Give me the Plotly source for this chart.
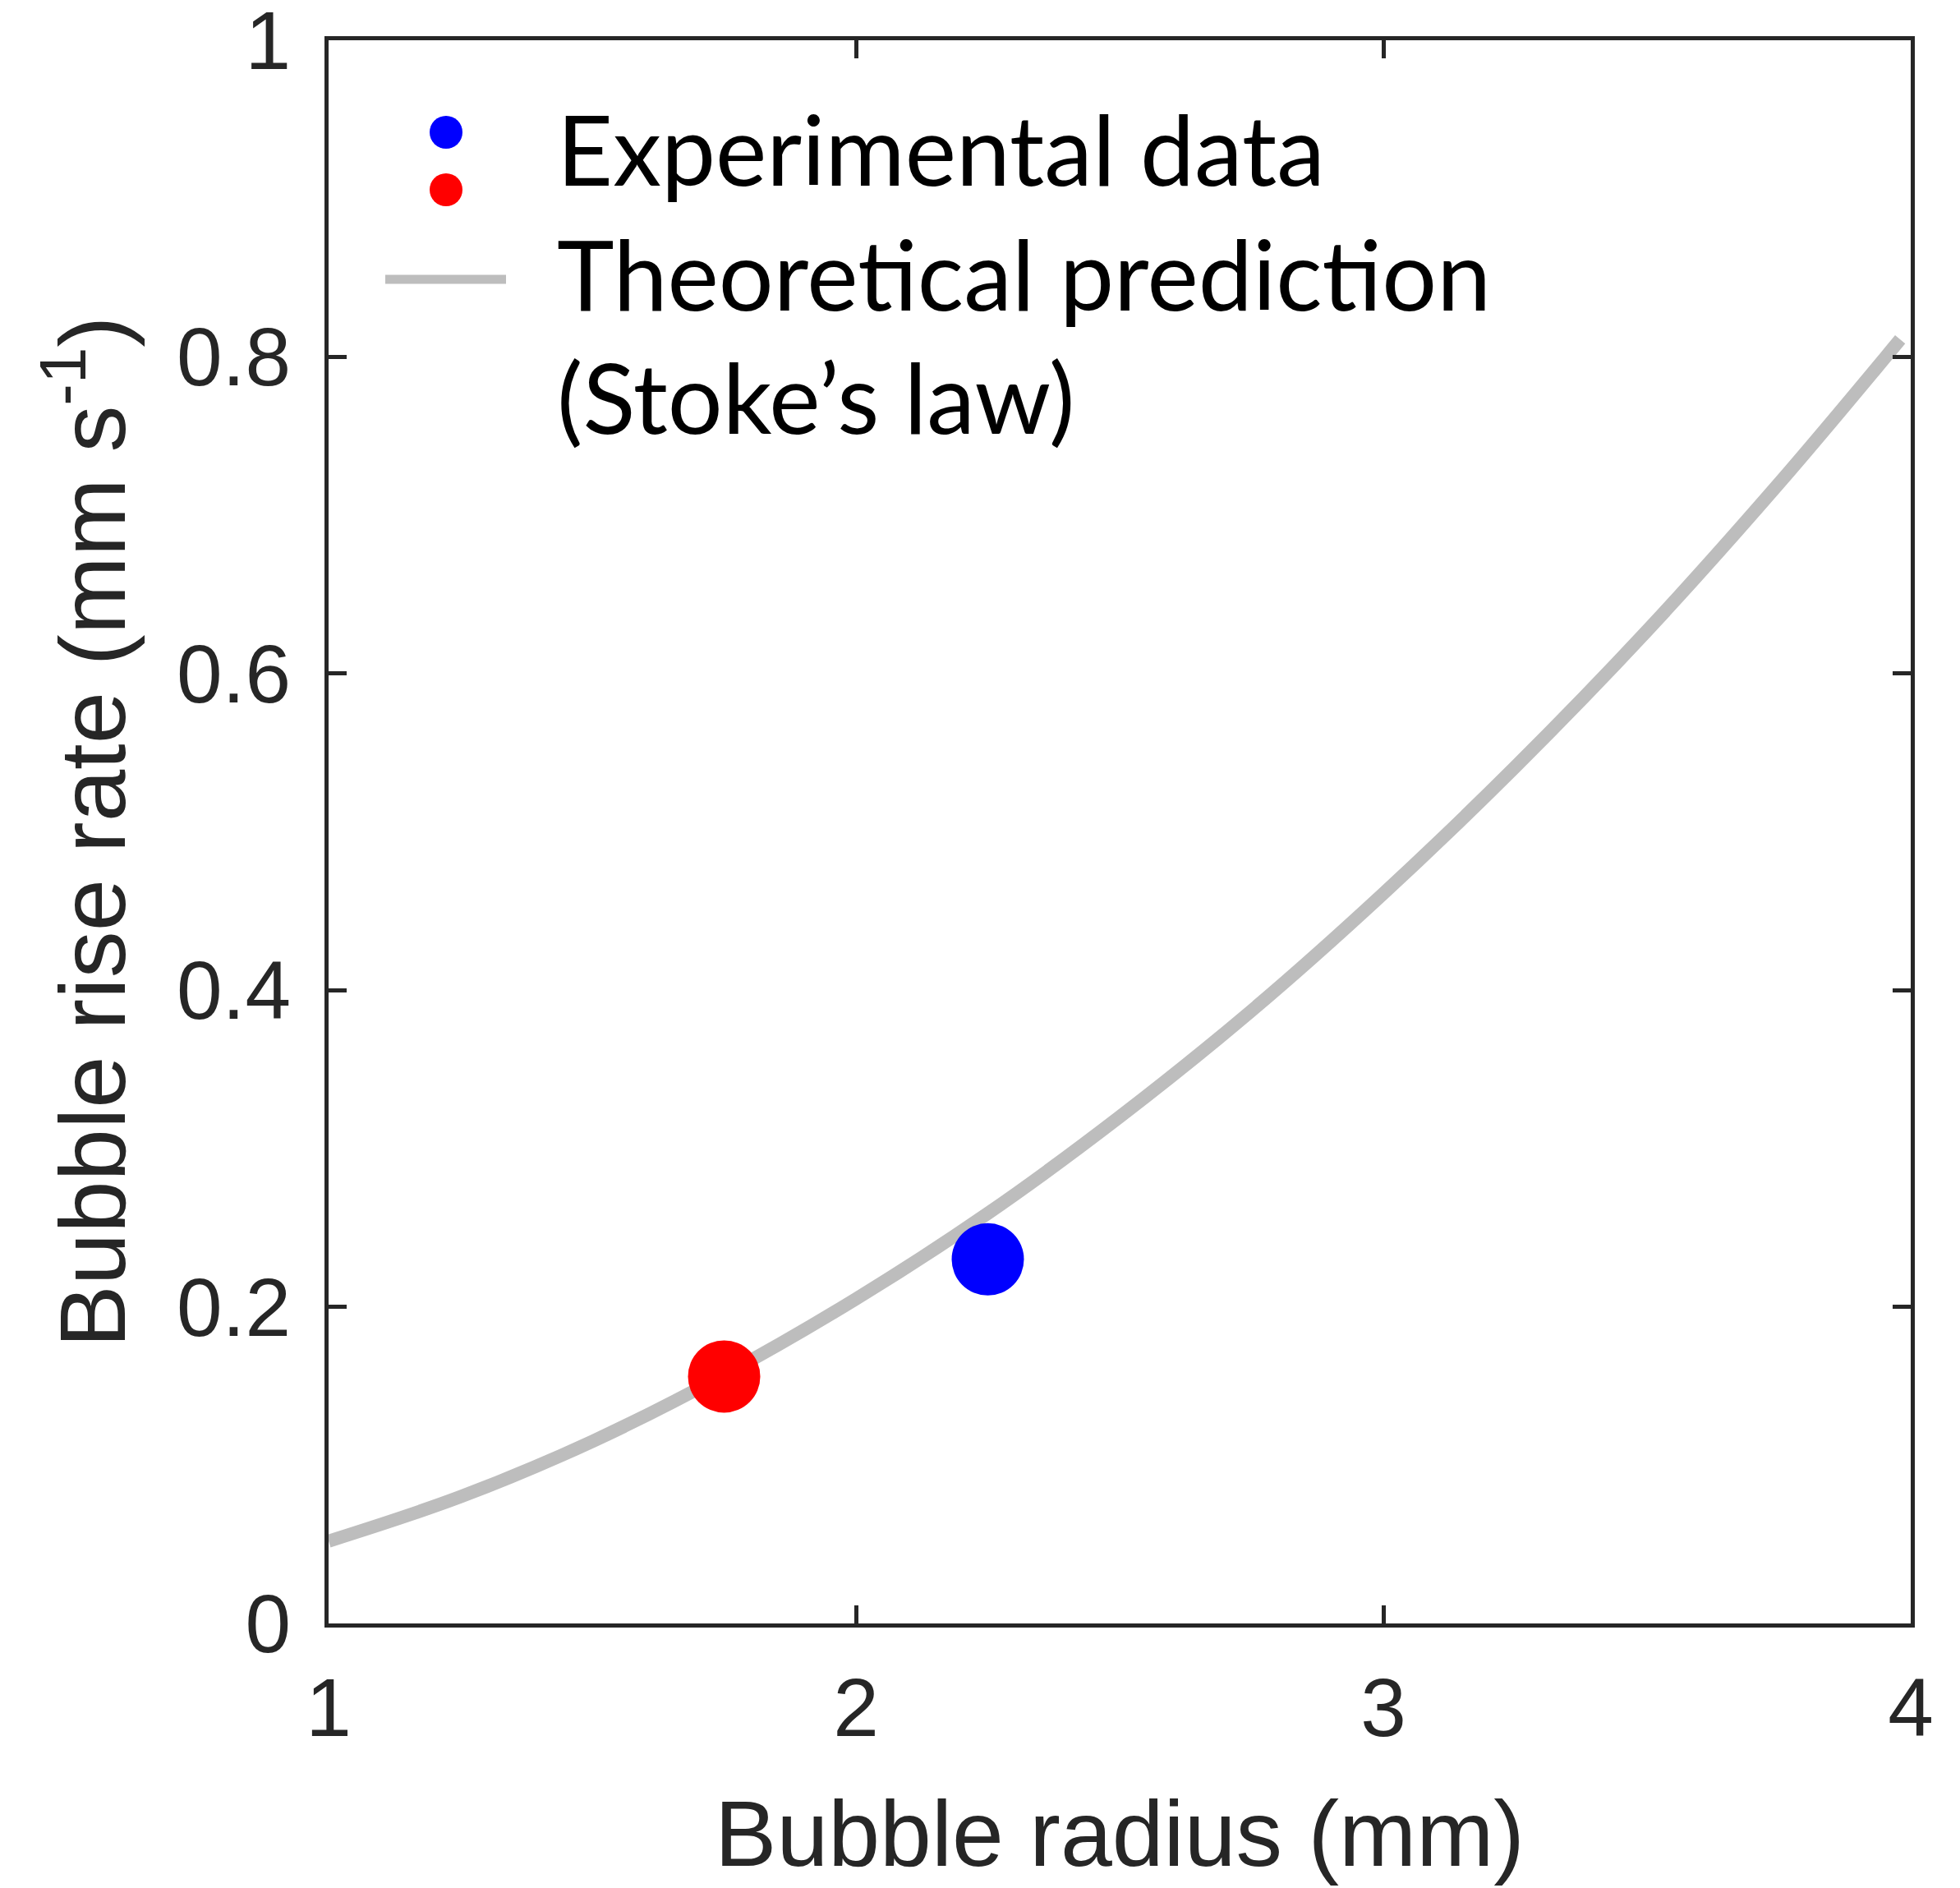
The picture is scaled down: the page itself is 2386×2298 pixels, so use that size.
import plotly.graph_objects as go

# ---- data ----
radius_theory = [1.0, 1.25, 1.5, 1.75, 2.0, 2.25, 2.5, 2.75, 3.0, 3.25, 3.5, 3.75, 3.98]
rate_theory = [0.052, 0.080, 0.115, 0.157, 0.205, 0.259, 0.320, 0.387, 0.461, 0.541, 0.627, 0.720, 0.811]

exp_radius = [2.25, 1.75]
exp_rate = [0.230, 0.156]
exp_colors = ["#0000ff", "#ff0000"]

x_ticks = [1, 2, 3, 4]
y_ticks = [0, 0.2, 0.4, 0.6, 0.8, 1]
y_ticktext = ["0", "0.2", "0.4", "0.6", "0.8", "1"]

legend_labels = ["Experimental data", "Theoretical prediction", "(Stoke’s law)"]

# ---- figure ----
OFF = 8  # default page body margin
W, H = 2386 - OFF, 2298 - OFF
L, R, T, B = 400 - OFF, 60, 49 - OFF, 322
pw, ph = W - L - R, H - T - B

def px(x):  # screen x -> paper
    return (x - OFF - L) / pw

def py(y):  # screen y -> paper
    return (H - B - (y - OFF)) / ph

AX = "#262626"
FONT = "Liberation Sans, Arial, sans-serif"
fig = go.Figure()
fig.add_trace(go.Scatter(x=radius_theory, y=rate_theory, mode="lines",
                         line=dict(color="#bdbdbd", width=16, shape="spline"),
                         showlegend=False, hoverinfo="skip"))
fig.add_trace(go.Scatter(x=exp_radius, y=exp_rate, mode="markers",
                         marker=dict(color=exp_colors, size=88, line=dict(width=0)),
                         showlegend=False))

axis_common = dict(showgrid=False, zeroline=False, showline=True, linewidth=5,
                   linecolor=AX, mirror="ticks", ticks="inside", ticklen=22,
                   tickwidth=5, tickcolor=AX, ticklabeloverflow="allow",
                   tickfont=dict(family=FONT, size=100, color=AX))

fig.update_xaxes(range=[1, 4], tickvals=x_ticks, ticklabelstandoff=12,
                 title=dict(text="Bubble radius (mm)", standoff=60,
                            font=dict(family=FONT, size=113, color=AX)),
                 **axis_common)
fig.update_yaxes(range=[0, 1], tickvals=y_ticks, ticktext=y_ticktext, ticklabelstandoff=21,
                 title=dict(text="Bubble rise rate (mm s<sup>-1</sup>)", standoff=26,
                            font=dict(family=FONT, size=114, color=AX)),
                 **axis_common)

# legend glyphs (manual, to mimic the two-dot legend entry)
shapes = []
for yy, col in [(161, "#0000ff"), (231, "#ff0000")]:
    shapes.append(dict(type="circle", xref="paper", yref="paper",
                       xsizemode="pixel", ysizemode="pixel",
                       xanchor=px(543), yanchor=py(yy), x0=-20, x1=20, y0=-20, y1=20,
                       fillcolor=col, line=dict(width=0)))
shapes.append(dict(type="line", xref="paper", yref="paper",
                   x0=px(469), x1=px(616), y0=py(340), y1=py(340),
                   line=dict(color="#bdbdbd", width=11)))

annotations = []
for txt, yy in zip(legend_labels, [180, 332, 482]):
    annotations.append(dict(text=txt, xref="paper", yref="paper", x=px(676), y=py(yy),
                            xanchor="left", yanchor="middle", showarrow=False,
                            font=dict(family="Lato, sans-serif", size=118, color="black")))

fig.update_layout(width=W, height=H, margin=dict(l=L, r=R, t=T, b=B, autoexpand=False),
                  plot_bgcolor="white", paper_bgcolor="white",
                  shapes=shapes, annotations=annotations)

fig.write_html("out.html")
